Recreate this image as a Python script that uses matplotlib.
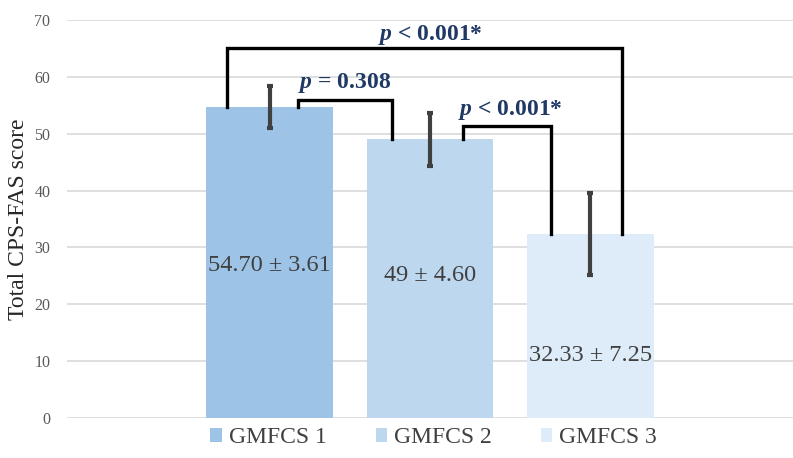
import numpy as np
import matplotlib.pyplot as plt

# group means and SDs of total CPS-FAS score
groups = ['GMFCS 1', 'GMFCS 2', 'GMFCS 3']
means = [54.70, 49.0, 32.33]
sds = [3.61, 4.60, 7.25]
value_labels = ['54.70 ± 3.61', '49 ± 4.60', '32.33 ± 7.25']
colors = ['#9DC3E6', '#BDD7EE', '#DEEBF8']

# pairwise comparisons: (i, j, p text)
pairs = [(0, 2, r'$\mathbfit{p}$ < 0.001*'),
         (0, 1, r'$\mathbfit{p}$ = 0.308'),
         (1, 2, r'$\mathbfit{p}$ < 0.001*')]

plt.rcParams['font.family'] = ['Liberation Serif', 'DejaVu Serif']
plt.rcParams['mathtext.fontset'] = 'custom'
plt.rcParams['mathtext.bfit'] = 'Liberation Serif:italic:bold'
plt.rcParams['mathtext.rm'] = 'Liberation Serif'

fig = plt.figure(figsize=(7.93, 4.58), dpi=100)
ax = fig.add_axes([0.0845, 0.0873, 0.9155, 0.869])

x = 0.5 + np.array([-0.221, 0.0, 0.221])
w = 0.174
bars = ax.bar(x, means, width=w, color=colors, label=groups, zorder=2)
ax.errorbar(x, means, yerr=sds, fmt='none', ecolor='#404040',
            elinewidth=3, capsize=2.2, capthick=3, zorder=3)

label_y = [26.9, 25.1, 11.0]
for xi, ly, t in zip(x, label_y, value_labels):
    ax.text(xi, ly, t, ha='center', va='center', fontsize=17.5, color='#404040', zorder=4)

# significance brackets
br = [
    (x[0] - 0.059, means[0], x[2] + 0.043, means[2], 65.0),
    (x[0] + 0.039, means[0], x[1] - 0.053, means[1], 56.0),
    (x[1] + 0.045, means[1], x[2] - 0.055, means[2], 51.4),
]
text_pos = [(0.50, 67.4), (0.382, 59.0), (0.611, 54.2)]
for (x1, y1, x2, y2, top), (tx, ty), (_, _, txt) in zip(br, text_pos, pairs):
    ax.plot([x1, x1, x2, x2], [y1, top, top, y2], color='black', lw=2.4,
            solid_joinstyle='miter', zorder=4)
    ax.text(tx, ty, txt, ha='center', va='center', fontsize=17,
            fontweight='bold', color='#1F3864', zorder=5)

ax.set_xlim(0, 1)
ax.set_ylim(0, 70)
ax.set_yticks(np.arange(0, 71, 10))
ax.set_xticks([])
ax.grid(axis='y', color='#D9D9D9', lw=1.2, zorder=0)
for s in ax.spines.values():
    s.set_visible(False)
ax.tick_params(axis='y', length=0, labelsize=11.5, labelcolor='#595959', pad=12)
ax.set_ylabel('Total CPS-FAS score', fontsize=17, color='#262626', labelpad=4)

fig.legend(handles=bars, labels=groups, loc='center', ncol=3,
           bbox_to_anchor=(0.547, 0.044), frameon=False, fontsize=17,
           labelcolor='#404040', handlelength=0.5, handleheight=0.5,
           handletextpad=0.3, columnspacing=2.05)

fig.savefig('out.png', dpi=100)
